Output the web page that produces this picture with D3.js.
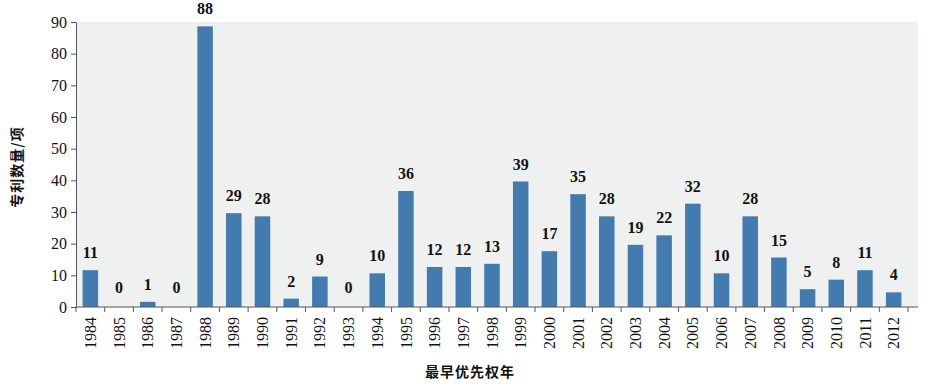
<!DOCTYPE html>
<html><head><meta charset="utf-8">
<script src="https://cdn.jsdelivr.net/npm/d3@7"></script>
<style>body{margin:0;background:#fff}svg{display:block}
.sf{font-family:"Liberation Serif","Times New Roman","DejaVu Serif",serif}
</style>
</head><body>
<script>
const years = ["1984","1985","1986","1987","1988","1989","1990","1991","1992","1993","1994","1995","1996","1997","1998","1999","2000","2001","2002","2003","2004","2005","2006","2007","2008","2009","2010","2011","2012"];
const counts = [11,0,1,0,88,29,28,2,9,0,10,36,12,12,13,39,17,35,28,19,22,32,10,28,15,5,8,11,4];
const yTicks = [0,10,20,30,40,50,60,70,80,90];
const yTitle = "专利数量/项";
const xTitle = "最早优先权年";

const W = 929, H = 384;
const L = 76, R = 908, T = 22, B = 307, bgRight = 918;
const svg = d3.select("body").append("svg").attr("width", W).attr("height", H);

const x = d3.scaleBand().domain(years).range([L, R]).paddingInner(0.46).paddingOuter(0.23);
const xb = d3.scaleBand().domain(years).range([L, R]);
const y = d3.scaleLinear().domain([0, 90]).range([B, T]);

svg.append("rect").attr("x", L).attr("y", T).attr("width", bgRight - L).attr("height", B - T).attr("fill", "#eff0f0");

svg.selectAll("rect.bar").data(years).join("rect").attr("class","bar")
  .attr("x", d => x(d)).attr("width", x.bandwidth())
  .attr("y", (d,i) => y(counts[i]) - (counts[i] > 0 ? 2 : 0)).attr("height", (d,i) => B - y(counts[i]) + (counts[i] > 0 ? 2 : 0))
  .attr("fill", "#437bae");

svg.selectAll("text.val").data(years).join("text").attr("class","val sf")
  .attr("x", d => xb(d) + xb.bandwidth()/2)
  .attr("y", (d,i) => y(counts[i]) - 14)
  .attr("text-anchor","middle").style("font-weight","bold")
  .style("font-size", "16px").attr("fill","#111").text((d,i) => counts[i]);

// Y axis
const ya = svg.append("g").attr("transform", `translate(${L},0)`)
  .call(d3.axisLeft(y).tickValues(yTicks).tickSize(5).tickPadding(4).tickSizeOuter(0));
ya.attr("font-family", null).attr("font-size", null);
ya.select(".domain").attr("stroke","#555");
ya.selectAll(".tick line").attr("stroke","#555");
ya.selectAll("text").attr("class","sf").style("font-size", "16px").attr("fill","#111");

// X axis
const xa = svg.append("g").attr("transform", `translate(0,${B})`)
  .call(d3.axisBottom(xb).tickSize(0).tickSizeOuter(0));
xa.attr("font-family", null).attr("font-size", null);
xa.select(".domain").remove();
svg.append("line").attr("x1", L).attr("x2", bgRight).attr("y1", B).attr("y2", B).attr("stroke","#555");
svg.selectAll("line.xt").data(years.map((d,i)=>i).concat([years.length])).join("line").attr("class","xt")
  .attr("x1", i => L + i*xb.step()).attr("x2", i => L + i*xb.step())
  .attr("y1", B).attr("y2", B+5).attr("stroke","#555");
xa.selectAll("text").attr("class","sf").style("font-size", "16px").attr("fill","#111")
  .attr("transform","rotate(-90)").attr("text-anchor","end")
  .attr("x", -10).attr("y", 0).attr("dy","0.35em");

svg.append("text").attr("x", 470).attr("y", 377).attr("text-anchor","middle")
  .style("font-family","'Noto Sans CJK SC',sans-serif").style("font-weight","bold").style("font-size","14px")
  .style("letter-spacing","1px").attr("fill","#111").text(xTitle);
svg.append("text").attr("transform","translate(22,167) rotate(-90)").attr("text-anchor","middle")
  .style("font-family","'Noto Sans CJK SC',sans-serif").style("font-weight","bold").style("font-size","14px")
  .style("letter-spacing","1px").attr("fill","#111").text(yTitle);
</script>
</body></html>
